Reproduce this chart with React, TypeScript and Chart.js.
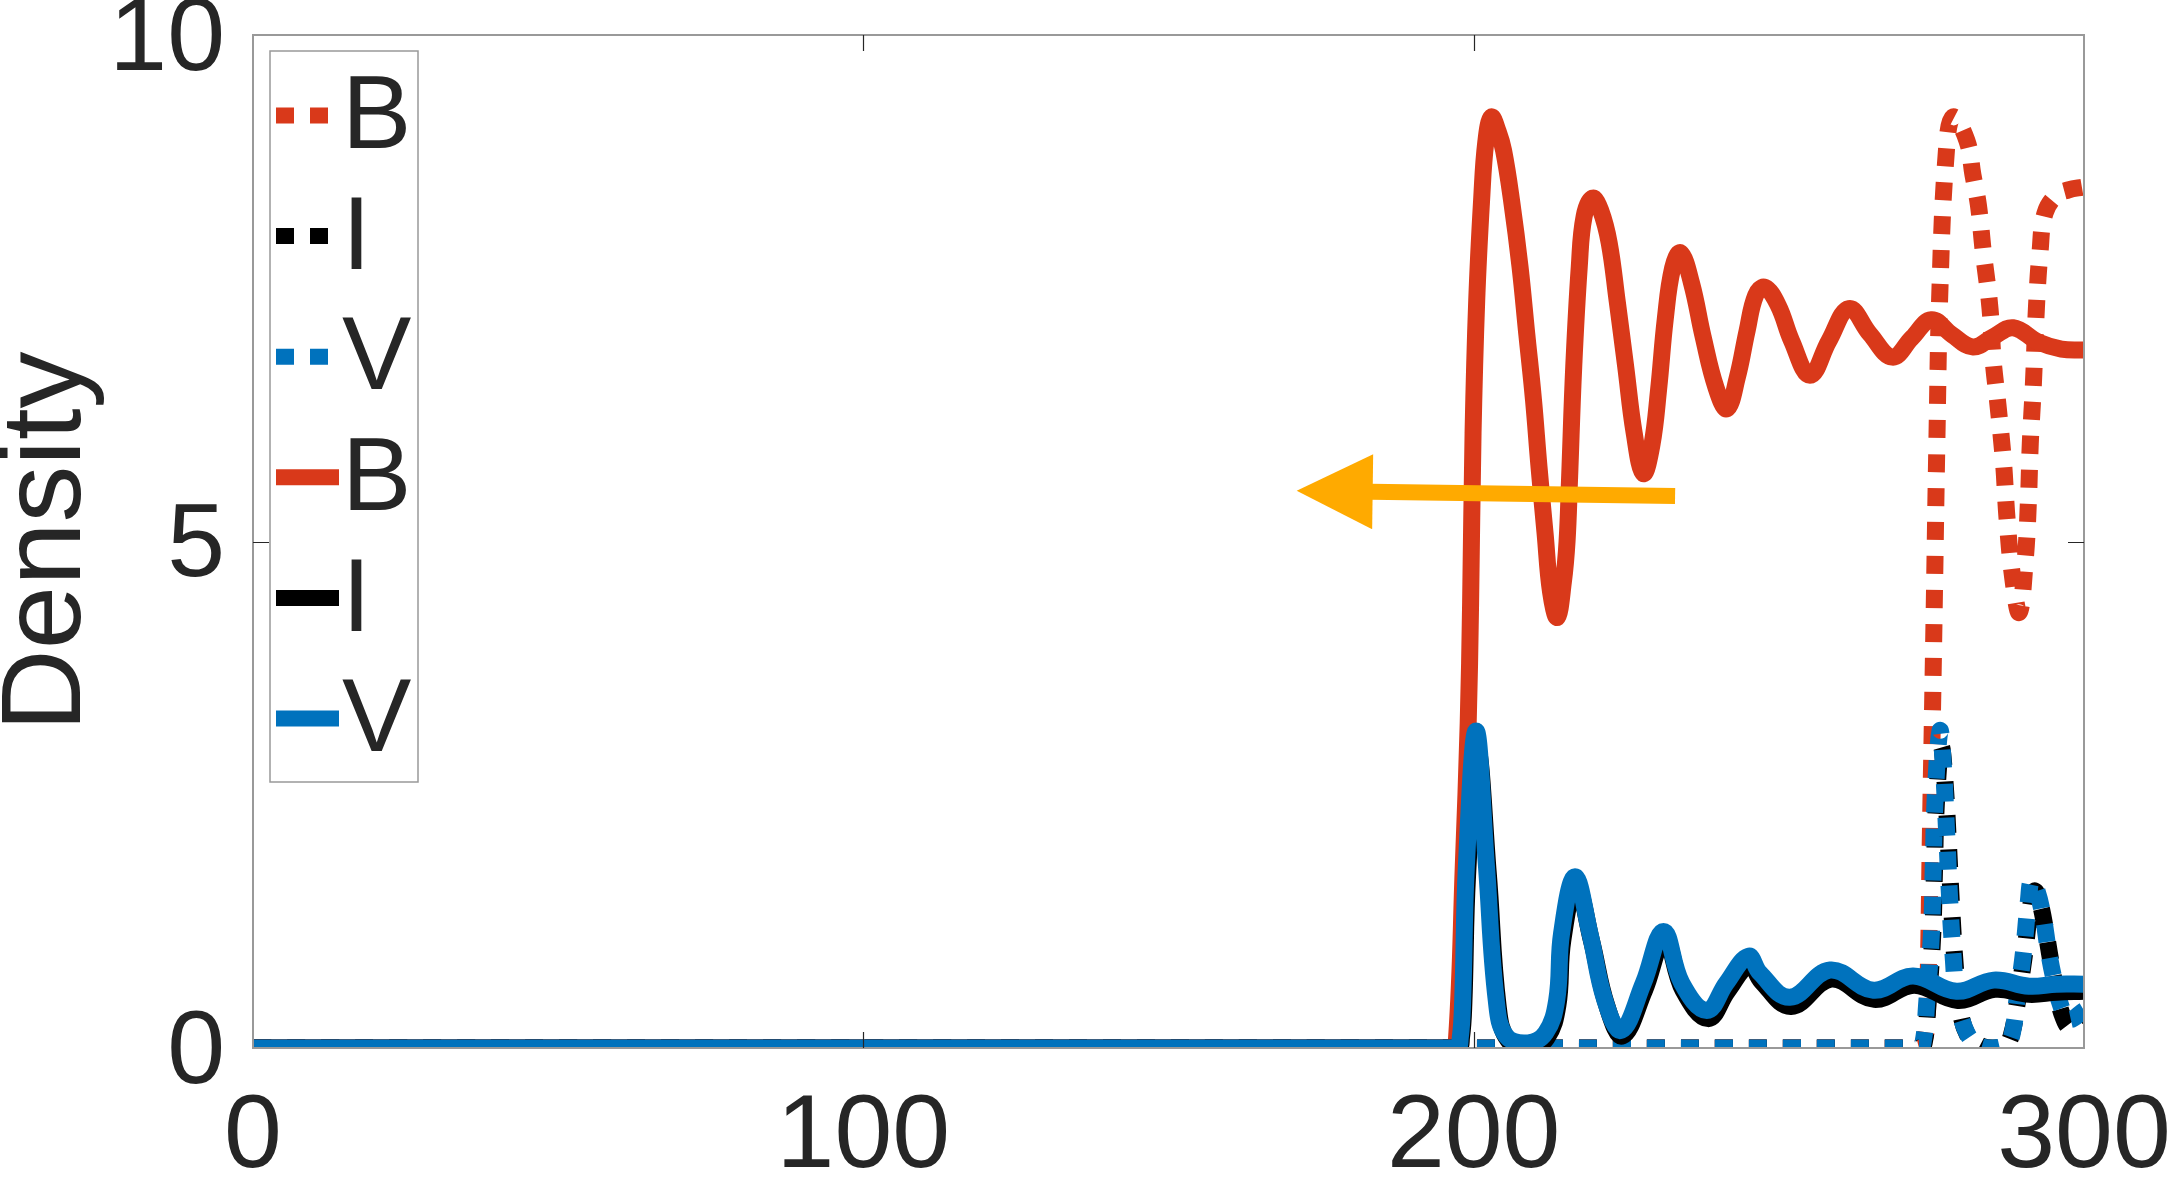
import React, { useEffect, useRef } from "react";
import { Chart, registerables } from "chart.js";

Chart.register(...registerables);

type Pt = [number, number];

// ---------- data ----------
const X_TICKS = [0, 100, 200, 300];
const Y_TICKS = [0, 5, 10];
const Y_TITLE = "Density";
const LABELS = ["B", "I", "V", "B", "I", "V"];

// dotted B
const B_DOT: Pt[] = [
  [0, 0], [272.8, 0], [273.6, 0.05], [274.2, 0.2], [274.5, 0.8], [274.8, 2.0], [275.2, 3.4],
  [275.5, 4.5], [275.9, 6.0], [276.4, 7.5], [277.4, 8.81], [278.5, 9.19], [280.8, 8.96],
  [281.8, 8.62], [282.7, 8.32], [283.5, 7.86], [284.6, 7.3], [285.1, 6.8], [285.9, 6.35],
  [286.8, 5.79], [287.4, 5.22], [288.3, 4.65], [289.4, 4.3], [290.4, 4.84], [290.9, 5.41],
  [291.2, 5.97], [291.7, 6.54], [292.2, 7.3], [292.8, 7.86], [293.6, 8.24], [295.5, 8.42],
  [297.4, 8.47], [300, 8.5],
];

// dotted I
const I_DOT: Pt[] = [
  [0, 0], [273.2, 0], [273.9, 0.08], [274.4, 0.4], [275.2, 1.1], [275.5, 1.75], [275.8, 2.4],
  [276.6, 2.97], [277.2, 2.65], [277.8, 2.0], [278.3, 1.4], [278.9, 0.82], [279.5, 0.45],
  [280.9, 0.13], [283.2, 0.02], [285.0, 0], [287.2, 0.03], [288.2, 0.15], [289.0, 0.42],
  [290.2, 0.9], [291.2, 1.38], [291.9, 1.55], [292.7, 1.45], [293.6, 1.2], [294.5, 0.88],
  [295.5, 0.55], [296.6, 0.3], [297.8, 0.2], [300, 0.3],
];

// dotted V
const V_DOT: Pt[] = [
  [0, 0], [273.0, 0], [273.7, 0.08], [274.2, 0.42], [275.0, 1.13], [275.3, 1.79], [275.6, 2.45],
  [276.4, 3.13], [276.9, 2.84], [277.5, 2.12], [278.0, 1.46], [278.6, 0.87], [279.1, 0.54],
  [280.5, 0.19], [282.5, 0.03], [285.1, 0], [287.5, 0.05], [288.4, 0.19], [289.0, 0.47],
  [290.0, 0.9], [290.9, 1.46], [291.4, 1.65], [292.3, 1.55], [293.3, 1.3], [294.2, 0.95],
  [295.2, 0.65], [296.3, 0.4], [297.5, 0.28], [300, 0.37],
];

// solid B
const B_SOLID: Pt[] = [
  [0, 0], [196.3, 0], [197.2, 0.1], [198.3, 1.8], [199.1, 3.2], [199.5, 4.4], [199.9, 6.07],
  [200.5, 7.38], [201.3, 8.37], [202.0, 8.95], [202.9, 9.19], [204.0, 9.05], [204.9, 8.86],
  [206.2, 8.37], [207.6, 7.71], [208.7, 7.05], [209.8, 6.4], [210.7, 5.74], [211.7, 5.08],
  [212.6, 4.5], [213.7, 4.25], [214.7, 4.6], [215.3, 5.0], [215.7, 5.6], [216.4, 6.73],
  [217.3, 7.71], [218.1, 8.21], [219.5, 8.39], [220.8, 8.27], [222.2, 7.95], [223.5, 7.38],
  [224.9, 6.73], [226.3, 6.07], [227.8, 5.67], [229.2, 5.95], [230.3, 6.5], [231.4, 7.2],
  [232.6, 7.7], [233.9, 7.85], [235.7, 7.55], [237.6, 7.02], [239.7, 6.52], [241.5, 6.31],
  [243.2, 6.62], [244.8, 7.08], [246.2, 7.43], [247.7, 7.51], [249.9, 7.33], [252.1, 6.98],
  [255.1, 6.64], [258.2, 6.98], [261.5, 7.3], [264.9, 7.05], [268.6, 6.82], [271.8, 7.01],
  [275.0, 7.19], [278.4, 7.04], [281.8, 6.92], [285.1, 7.02], [288.4, 7.11], [292.5, 6.97],
  [296.3, 6.9], [300, 6.89],
];

// solid I
const I_SOLID: Pt[] = [
  [0, 0], [197.4, 0], [198.0, 0.1], [198.4, 0.45], [199.0, 1.7], [200.6, 2.95], [202.4, 1.72],
  [204.0, 0.42], [205.6, 0.08], [209.0, 0], [212.0, 0.1], [213.8, 0.42], [214.6, 1.06],
  [216.8, 1.6], [219.3, 1.06], [221.8, 0.42], [224.4, 0.12], [228.0, 0.57], [231.3, 1.07],
  [234.3, 0.57], [238.4, 0.29], [241.6, 0.56], [245.2, 0.82], [247.1, 0.66], [252.0, 0.41],
  [258.6, 0.68], [265.6, 0.48], [272.2, 0.62], [279.3, 0.47], [285.4, 0.58], [291.0, 0.53],
  [295.5, 0.55], [300, 0.56],
];

// solid V
const V_SOLID: Pt[] = [
  [0, 0], [197.2, 0], [197.8, 0.1], [198.2, 0.47], [198.8, 1.79], [200.4, 3.13], [202.1, 1.79],
  [203.7, 0.47], [205.3, 0.12], [208.9, 0.05], [211.8, 0.15], [213.6, 0.47], [214.4, 1.13],
  [216.6, 1.69], [219.05, 1.13], [221.5, 0.47], [224.2, 0.175], [227.8, 0.64], [231.1, 1.15],
  [234.1, 0.64], [238.2, 0.37], [241.4, 0.64], [245.0, 0.905], [246.9, 0.74], [251.8, 0.5],
  [258.4, 0.77], [265.5, 0.57], [272.0, 0.71], [279.1, 0.56], [285.2, 0.67], [291.0, 0.61],
  [295.5, 0.63], [300, 0.63],
];

// annotation arrow (data coordinates)
const ARROW_TAIL: Pt = [233.0, 5.45];
const ARROW_TIP: Pt = [171.0, 5.5];

// ---------- styles ----------
const FONT = "'Liberation Sans', Arial, Helvetica, sans-serif";
const TEXT = "#262626";
const AXIS = "#999999";
const RED = "#D9391A";
const BLACK = "#000000";
const BLUE = "#0072BD";
const ORANGE = "#FFAA00";
const DOTS = [18, 16];
const LW = 17;

const overlay = {
  id: "overlay",
  afterDatasetsDraw(chart: any) {
    const { ctx, chartArea: a, scales } = chart;
    const xs = scales.x;
    const ys = scales.y;
    ctx.save();
    // axes box
    ctx.strokeStyle = AXIS;
    ctx.lineWidth = 2;
    ctx.setLineDash([]);
    ctx.strokeRect(a.left, a.top, a.right - a.left, a.bottom - a.top);
    // inward tick marks on all four sides
    const TL = 16;
    ctx.strokeStyle = TEXT;
    ctx.lineWidth = 1.2;
    ctx.beginPath();
    xs.ticks.forEach((t: any) => {
      const px = Math.round(xs.getPixelForValue(t.value)) + 0.5;
      if (px <= a.left + 2 || px >= a.right - 2) return;
      ctx.moveTo(px, a.bottom);
      ctx.lineTo(px, a.bottom - TL);
      ctx.moveTo(px, a.top);
      ctx.lineTo(px, a.top + TL);
    });
    ys.ticks.forEach((t: any) => {
      const py = Math.round(ys.getPixelForValue(t.value)) + 0.5;
      if (py <= a.top + 2 || py >= a.bottom - 2) return;
      ctx.moveTo(a.left, py);
      ctx.lineTo(a.left + TL, py);
      ctx.moveTo(a.right, py);
      ctx.lineTo(a.right - TL, py);
    });
    ctx.stroke();

    // orange arrow annotation
    const tx = xs.getPixelForValue(ARROW_TAIL[0]);
    const ty = ys.getPixelForValue(ARROW_TAIL[1]);
    const hx = xs.getPixelForValue(ARROW_TIP[0]);
    const hy = ys.getPixelForValue(ARROW_TIP[1]);
    const len = Math.hypot(hx - tx, hy - ty);
    const ux = (hx - tx) / len;
    const uy = (hy - ty) / len;
    const HEAD_L = 76;
    const HEAD_W = 37.5;
    const bx = hx - ux * HEAD_L;
    const by = hy - uy * HEAD_L;
    ctx.strokeStyle = ORANGE;
    ctx.fillStyle = ORANGE;
    ctx.lineWidth = 16;
    ctx.lineCap = "butt";
    ctx.beginPath();
    ctx.moveTo(tx, ty);
    ctx.lineTo(bx + ux * 2, by + uy * 2);
    ctx.stroke();
    ctx.beginPath();
    ctx.moveTo(hx, hy);
    ctx.lineTo(bx - uy * HEAD_W, by + ux * HEAD_W);
    ctx.lineTo(bx + uy * HEAD_W, by - ux * HEAD_W);
    ctx.closePath();
    ctx.fill();
    ctx.restore();
  },
  afterDraw(chart: any) {
    const { ctx, chartArea: a } = chart;
    const ds = chart.data.datasets;
    const left = a.left + 17;
    const top = a.top + 16;
    const w = 148;
    const h = 731;
    ctx.save();
    ctx.fillStyle = "#ffffff";
    ctx.fillRect(left, top, w, h);
    ctx.strokeStyle = AXIS;
    ctx.lineWidth = 1.5;
    ctx.setLineDash([]);
    ctx.strokeRect(left, top, w, h);
    ds.forEach((d: any, i: number) => {
      const y = top + 64.5 + i * 120.6;
      ctx.strokeStyle = d.borderColor;
      ctx.lineWidth = 16;
      ctx.lineCap = "butt";
      ctx.setLineDash(d.borderDash || []);
      ctx.beginPath();
      ctx.moveTo(left + 6, y);
      ctx.lineTo(left + 69, y);
      ctx.stroke();
      ctx.setLineDash([]);
      ctx.fillStyle = TEXT;
      ctx.font = `104px ${FONT}`;
      ctx.textAlign = "left";
      ctx.textBaseline = "middle";
      ctx.fillText(d.label, left + 72, y + 4);
    });
    ctx.restore();
  },
};

export default function App() {
  const ref = useRef<HTMLCanvasElement>(null);

  useEffect(() => {
    const canvas = ref.current;
    if (!canvas) return;
    const series = [
      { label: LABELS[0], data: B_DOT, color: RED, dash: DOTS },
      { label: LABELS[1], data: I_DOT, color: BLACK, dash: DOTS },
      { label: LABELS[2], data: V_DOT, color: BLUE, dash: DOTS },
      { label: LABELS[3], data: B_SOLID, color: RED, dash: [] as number[] },
      { label: LABELS[4], data: I_SOLID, color: BLACK, dash: [] as number[] },
      { label: LABELS[5], data: V_SOLID, color: BLUE, dash: [] as number[] },
    ];
    const chart = new Chart(canvas, {
      type: "line",
      data: {
        datasets: series.map((s, i) => ({
          label: s.label,
          data: s.data.map(([x, y]) => ({ x, y })),
          borderColor: s.color,
          backgroundColor: s.color,
          borderWidth: LW,
          borderDash: s.dash,
          borderCapStyle: "butt",
          borderJoinStyle: "round",
          pointRadius: 0,
          pointHoverRadius: 0,
          fill: false,
          tension: 0.4,
          clip: 0,
          order: series.length - 1 - i,
        })),
      } as any,
      options: {
        animation: false,
        responsive: false,
        devicePixelRatio: 1,
        events: [],
        layout: { padding: { top: 35, right: 86, left: 0, bottom: 0 } },
        plugins: {
          legend: { display: false },
          tooltip: { enabled: false },
        },
        scales: {
          x: {
            type: "linear",
            min: X_TICKS[0],
            max: X_TICKS[X_TICKS.length - 1],
            afterBuildTicks: (s: any) => {
              s.ticks = X_TICKS.map((v) => ({ value: v }));
            },
            ticks: {
              font: { family: FONT, size: 104 },
              color: TEXT,
              padding: 28,
              maxRotation: 0,
              autoSkip: false,
            },
            grid: { display: false, drawTicks: false },
            border: { display: false },
            afterFit: (s: any) => {
              s.height = 132;
              s.paddingLeft = 0;
              s.paddingRight = 0;
            },
          },
          y: {
            type: "linear",
            min: Y_TICKS[0],
            max: Y_TICKS[Y_TICKS.length - 1],
            afterBuildTicks: (s: any) => {
              s.ticks = Y_TICKS.map((v) => ({ value: v }));
            },
            ticks: {
              font: { family: FONT, size: 104 },
              color: TEXT,
              padding: 28,
              labelOffset: 6,
              autoSkip: false,
            },
            grid: { display: false, drawTicks: false },
            border: { display: false },
            title: {
              display: true,
              text: Y_TITLE,
              color: TEXT,
              font: { family: FONT, size: 114, lineHeight: 1 },
              padding: { top: -8, bottom: 0 },
            },
            afterFit: (s: any) => {
              s.width = 253;
              s.paddingTop = 0;
              s.paddingBottom = 0;
            },
          },
        },
      } as any,
      plugins: [overlay],
    });
    return () => chart.destroy();
  }, []);

  return (
    <div style={{ position: "absolute", left: 0, top: 0, width: 2170, height: 1180, background: "#ffffff" }}>
      <canvas ref={ref} width={2170} height={1180} style={{ display: "block", width: 2170, height: 1180 }} />
    </div>
  );
}
